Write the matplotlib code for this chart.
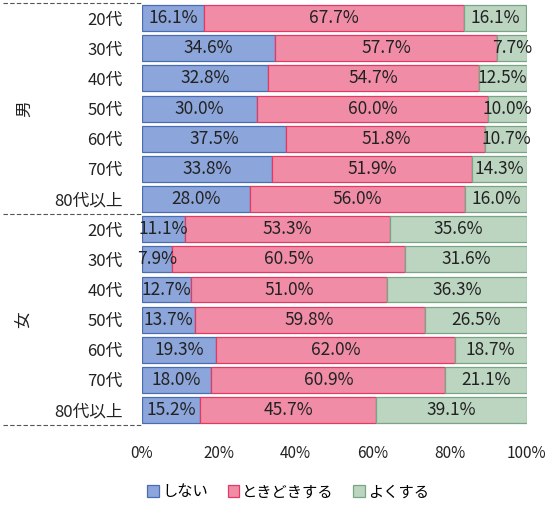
import matplotlib.pyplot as plt
import numpy as np

plt.rcParams['font.family'] = ['Noto Sans CJK JP', 'DejaVu Sans']

ages = ["20代", "30代", "40代", "50代", "60代", "70代", "80代以上"]
groups = ["男", "女"]
series = ["しない", "ときどきする", "よくする"]

male_no = [16.1, 34.6, 32.8, 30.0, 37.5, 33.8, 28.0]
male_some = [67.7, 57.7, 54.7, 60.0, 51.8, 51.9, 56.0]
male_often = [16.1, 7.7, 12.5, 10.0, 10.7, 14.3, 16.0]

female_no = [11.1, 7.9, 12.7, 13.7, 19.3, 18.0, 15.2]
female_some = [53.3, 60.5, 51.0, 59.8, 62.0, 60.9, 45.7]
female_often = [35.6, 31.6, 36.3, 26.5, 18.7, 21.1, 39.1]

xticks = [0, 20, 40, 60, 80, 100]

colors = ["#8ca5da", "#f08ca5", "#bcd5c0"]
edges = ["#4a6cb4", "#e23a64", "#7aa585"]

data = np.array([male_no + female_no,
                 male_some + female_some,
                 male_often + female_often])
labels = ages + ages
y = np.arange(len(labels))

fig = plt.figure(figsize=(5.52, 5.08), dpi=100)
ax = fig.add_axes([0.257, 0.163, 0.697, 0.831])

left = np.zeros(len(labels))
for i in range(3):
    ax.barh(y, data[i], left=left, height=0.86, color=colors[i],
            edgecolor=edges[i], linewidth=0.9, label=series[i])
    for yy, l, v in zip(y, left, data[i]):
        ax.text(l + v / 2, yy, f"{v:.1f}%", ha="center", va="center",
                fontsize=12.5, color="#222222")
    left += data[i]

ax.set_xlim(0, 100)
ax.set_ylim(len(labels) - 0.5, -0.5)
ax.set_yticks(y)
ax.set_yticklabels(labels, fontsize=12, color="#222222")
ax.set_xticks(xticks)
ax.set_xticklabels([f"{t}%" for t in xticks], fontsize=11, color="#222222")
ax.tick_params(axis="y", length=0, pad=14)
ax.tick_params(axis="x", length=0, pad=14)
for s in ax.spines.values():
    s.set_visible(False)

# group separators and labels
for yl in [-0.5, 6.5, 13.5]:
    ax.plot([-0.36, 0], [1 - (yl + 0.5) / 14] * 2, transform=ax.transAxes,
            color="#555555", linestyle=(0, (4, 2)), linewidth=0.8, clip_on=False)
ax.text(-0.305, 1 - 3.5 / 14, groups[0], transform=ax.transAxes,
        rotation=90, ha="center", va="center", fontsize=12, color="#222222")
ax.text(-0.305, 1 - 10.5 / 14, groups[1], transform=ax.transAxes,
        rotation=90, ha="center", va="center", fontsize=12, color="#222222")

fig.legend(loc="center", bbox_to_anchor=(0.522, 0.032), ncol=3, frameon=False,
           fontsize=11, handlelength=0.75, handleheight=0.75, handletextpad=0.2,
           columnspacing=1.3)

fig.savefig("out.png", dpi=100)
